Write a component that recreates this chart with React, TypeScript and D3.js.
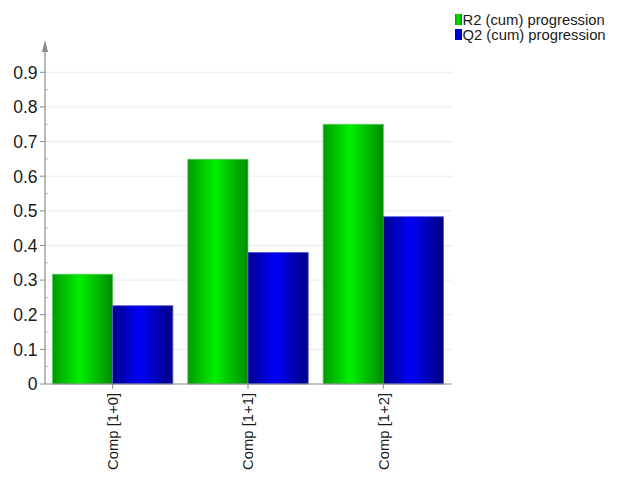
import React from "react";
import * as d3 from "d3";

const categories = ["Comp [1+0]", "Comp [1+1]", "Comp [1+2]"];
const r2Values = [0.317, 0.649, 0.75];
const q2Values = [0.226, 0.38, 0.483];
const seriesNames = ["R2 (cum) progression", "Q2 (cum) progression"];
const yTicks = [0, 0.1, 0.2, 0.3, 0.4, 0.5, 0.6, 0.7, 0.8, 0.9];

const W = 620;
const H = 477;
const left = 45;
const right = 451;
const bottom = 384;
const top = 40;

export default function App() {
  const x = d3
    .scaleBand<string>()
    .domain(categories)
    .range([left, right])
    .paddingInner(0.11)
    .paddingOuter(0.055);
  const sub = d3
    .scaleBand<string>()
    .domain(["r2", "q2"])
    .range([0, x.bandwidth()]);
  const y = d3.scaleLinear().domain([0, 0.9]).range([bottom, 72.3]);
  const minor = d3.range(0.05, 0.95, 0.1);
  const font = "Liberation Sans, Arial, sans-serif";

  return (
    <svg
      width={W}
      height={H}
      style={{ position: "absolute", left: 0, top: 0, background: "#fff" }}
      fontFamily={font}
    >
      <defs>
        <linearGradient id="gGreen" x1="0" x2="1" y1="0" y2="0">
          <stop offset="0" stopColor="#009a00" />
          <stop offset="0.45" stopColor="#00f000" />
          <stop offset="1" stopColor="#008c00" />
        </linearGradient>
        <linearGradient id="gBlue" x1="0" x2="1" y1="0" y2="0">
          <stop offset="0" stopColor="#00008e" />
          <stop offset="0.45" stopColor="#0000f8" />
          <stop offset="1" stopColor="#000080" />
        </linearGradient>
      </defs>

      {/* grid */}
      {yTicks.slice(1).map((t) => (
        <line key={t} x1={left} x2={right + 1} y1={y(t)} y2={y(t)} stroke="#ebebeb" />
      ))}

      {/* bars */}
      {categories.map((c, i) => (
        <g key={c} transform={`translate(${x(c)},0)`}>
          <rect
            x={sub("r2")}
            y={y(r2Values[i])}
            width={sub.bandwidth()}
            height={bottom - y(r2Values[i])}
            fill="url(#gGreen)"
            stroke="#5fc85f"
            strokeWidth={0.8}
          />
          <rect
            x={sub("q2")}
            y={y(q2Values[i])}
            width={sub.bandwidth()}
            height={bottom - y(q2Values[i])}
            fill="url(#gBlue)"
            stroke="#5a5ae0"
            strokeWidth={0.8}
          />
        </g>
      ))}

      {/* y axis */}
      <line x1={left} x2={left} y1={bottom} y2={top + 6} stroke="#8a8a8a" strokeWidth={1.2} />
      <path d={`M${left - 3},${top + 12} L${left},${top} L${left + 3},${top + 12} Z`} fill="#8a8a8a" />
      {yTicks.map((t) => (
        <g key={t}>
          <line x1={left - 5} x2={left} y1={y(t)} y2={y(t)} stroke="#8a8a8a" />
          <text
            x={37.5}
            y={y(t)}
            dy="0.36em"
            textAnchor="end"
            fontSize={17.5}
            fill="#1a1a1a"
          >
            {d3.format("")(t)}
          </text>
        </g>
      ))}
      {minor.map((t) => (
        <line key={t} x1={left} x2={left + 3} y1={y(t)} y2={y(t)} stroke="#b0b0b0" />
      ))}

      {/* x axis */}
      <line x1={left} x2={right + 1} y1={bottom} y2={bottom} stroke="#8a8a8a" strokeWidth={1.2} />
      {categories.map((c) => {
        const cx = (x(c) as number) + x.bandwidth() / 2;
        return (
          <g key={c}>
            <line x1={cx} x2={cx} y1={bottom} y2={bottom + 5} stroke="#8a8a8a" />
            <text
              transform={`translate(${cx},${bottom + 9}) rotate(-90)`}
              dy="0.36em"
              textAnchor="end"
              fontSize={14.8}
              fill="#1a1a1a"
            >
              {c}
            </text>
          </g>
        );
      })}

      {/* legend */}
      {seriesNames.map((s, i) => (
        <g key={s} transform={`translate(455,${14 + i * 15})`}>
          <rect
            width={7}
            height={11}
            fill={i === 0 ? "url(#gGreen)" : "url(#gBlue)"}
          />
          <text x={7.5} y={10.5} fontSize={14.8} fill="#1a1a1a">
            {s}
          </text>
        </g>
      ))}
    </svg>
  );
}
